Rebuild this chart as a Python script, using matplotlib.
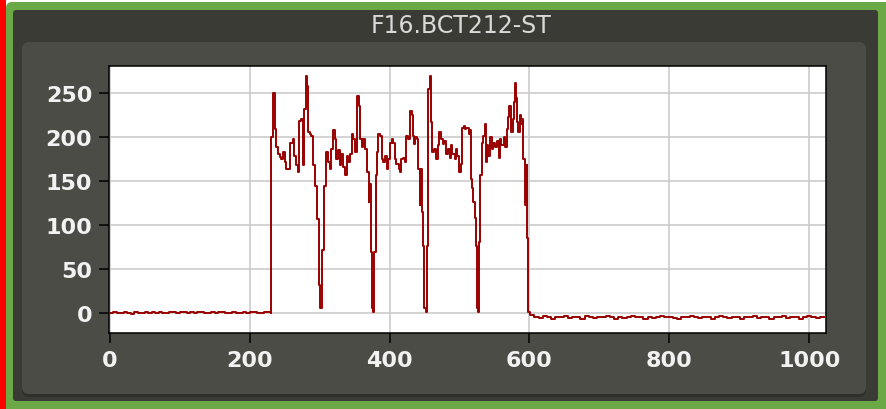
import numpy as np
import matplotlib
matplotlib.use("Agg")
import matplotlib.pyplot as plt
from matplotlib.patches import Rectangle, FancyBboxPatch
from matplotlib.transforms import IdentityTransform

# signal from the BCT212 current transformer, sample index vs counts
left_x = list(range(0, 231, 5))
left_y = [0, 1, 0, 0, 1, 0, -1, 1, 0, 0,
          1, 0, 2, 0, 1, 0, 0, 1, 1, 0,
          2, 1, 0, 1, 0, 2, 1, 0, 0, 1,
          0, 1, 2, 0, 0, 1, 0, 0, 1, 0,
          1, 2, 0, 0, 1, 2, 0]

pulse_x = [231, 234, 236, 238, 241, 243, 245, 248, 250, 252,
           255, 258, 262, 264, 267, 269, 271, 274, 276, 278,
           280, 282, 284, 286, 288, 291, 293, 296, 297, 299,
           301, 303, 304, 307, 309, 312, 315, 317, 319, 322,
           324, 327, 329, 331, 334, 336, 339, 341, 343, 346,
           348, 350, 353, 356, 358, 360, 362, 365, 368, 370,
           371, 373, 375, 377, 378, 380, 382, 384, 387, 389,
           391, 394, 396, 398, 401, 403, 405, 408, 410, 413,
           415, 417, 420, 422, 424, 427, 429, 432, 433, 435,
           437, 439, 441, 443, 444, 446, 448, 450, 452, 454,
           455, 458, 459, 461, 464, 466, 469, 471, 474, 476,
           478, 481, 483, 486, 488, 490, 493, 495, 497, 500,
           502, 504, 507, 508, 510, 513, 515, 517, 518, 520,
           522, 524, 525, 527, 528, 530, 532, 534, 536, 538,
           539, 541, 544, 546, 548, 551, 553, 556, 558, 560,
           563, 565, 568, 570, 571, 574, 576, 578, 579, 581,
           582, 584, 586, 588, 590, 591, 593, 594, 596, 597,
           598]
pulse_y = [200, 250, 209, 189, 181, 178, 175, 183, 172, 164,
           164, 194, 198, 179, 168, 160, 219, 221, 168, 232,
           270, 258, 206, 204, 202, 168, 145, 134, 107, 32,
           6, 6, 72, 145, 183, 172, 164, 187, 208, 198,
           175, 185, 168, 181, 166, 157, 179, 172, 181, 204,
           198, 183, 247, 236, 198, 189, 198, 187, 160, 126,
           147, 70, 6, 2, 70, 157, 183, 204, 202, 175,
           172, 179, 164, 175, 194, 198, 194, 175, 170, 164,
           160, 175, 177, 172, 202, 198, 230, 225, 202, 192,
           200, 198, 164, 123, 164, 115, 77, 6, 2, 77,
           255, 270, 217, 183, 187, 175, 191, 206, 198, 192,
           196, 181, 187, 177, 191, 181, 175, 187, 179, 160,
           170, 211, 213, 209, 211, 204, 208, 153, 142, 126,
           108, 77, 6, 2, 81, 157, 194, 202, 215, 172,
           191, 179, 200, 187, 194, 189, 196, 177, 198, 191,
           200, 189, 209, 223, 236, 206, 221, 240, 262, 245,
           217, 206, 225, 215, 221, 175, 168, 123, 168, 85,
           2]

right_x = list(range(601, 1024, 6))
right_y = [-2, -4, -5, -3, -4, -6, -4, -4, -3, -5,
           -4, -4, -6, -3, -4, -5, -4, -4, -3, -4,
           -6, -4, -5, -4, -3, -4, -4, -6, -4, -5,
           -4, -3, -4, -4, -5, -6, -4, -4, -3, -4,
           -5, -4, -4, -6, -4, -3, -4, -5, -4, -4,
           -6, -4, -4, -3, -5, -4, -4, -6, -4, -4,
           -3, -5, -4, -4, -6, -4, -3, -4, -5, -4,
           -4]

x_ticks = [0, 200, 400, 600, 800, 1000]
y_ticks = [0, 50, 100, 150, 200, 250]
title = "F16.BCT212-ST"

W, H = 886, 410
fig = plt.figure(figsize=(W / 100, H / 100), dpi=100)
fig.patch.set_facecolor("white")


def px_box(x0, y0, x1, y1, color, r=0, z=-10, ec="none", lw=0):
    # pixel box, y measured from the top
    p = FancyBboxPatch((x0, H - y1), x1 - x0, y1 - y0,
                       boxstyle="round,pad=0,rounding_size=%g" % r,
                       transform=IdentityTransform(), facecolor=color,
                       edgecolor=ec, linewidth=lw, zorder=z)
    fig.add_artist(p)


# frame: red edge, green border, dark window, inner panel
fig.add_artist(Rectangle((0, 0), 6, H, transform=IdentityTransform(),
                         facecolor="#ff0000", edgecolor="none", zorder=-10))
px_box(6, 3, W + 12, H + 12, "#6aa946", r=6, z=-9)
px_box(13, 11, 878, 402, "#3a3b35", r=3, z=-8)
px_box(22, 44, 866, 398, "#2f302b", r=7, z=-7)
px_box(22, 43, 866, 395, "#4b4c46", r=7, z=-6)

fig.text(461 / W, 1 - 26 / H, title, color="#d9d9d9", fontsize=17,
         ha="center", va="center")

ax = fig.add_axes([109 / W, 1 - 334 / H, (826 - 109) / W, (334 - 67) / H])
ax.set_facecolor("white")

xs = left_x + pulse_x + right_x
ys = left_y + pulse_y + right_y
ax.plot(xs, ys, color="#990000", lw=1.4, drawstyle="steps-post", zorder=3)

ax.set_xlim(-1, 1024)
ax.set_ylim(-22.4, 281)
ax.set_xticks(x_ticks)
ax.set_yticks(y_ticks)
ax.grid(True, color="#c8c8c8", lw=1.1, zorder=0)
ax.set_axisbelow(True)
for s in ax.spines.values():
    s.set_color("black")
    s.set_linewidth(1.1)
ax.tick_params(direction="out", length=7, width=1.1, color="black",
               labelcolor="#f2f2f2", labelsize=16, pad=5)
for lab in ax.get_xticklabels() + ax.get_yticklabels():
    lab.set_fontweight("bold")

fig.savefig("out.png", dpi=100, facecolor=fig.get_facecolor())
